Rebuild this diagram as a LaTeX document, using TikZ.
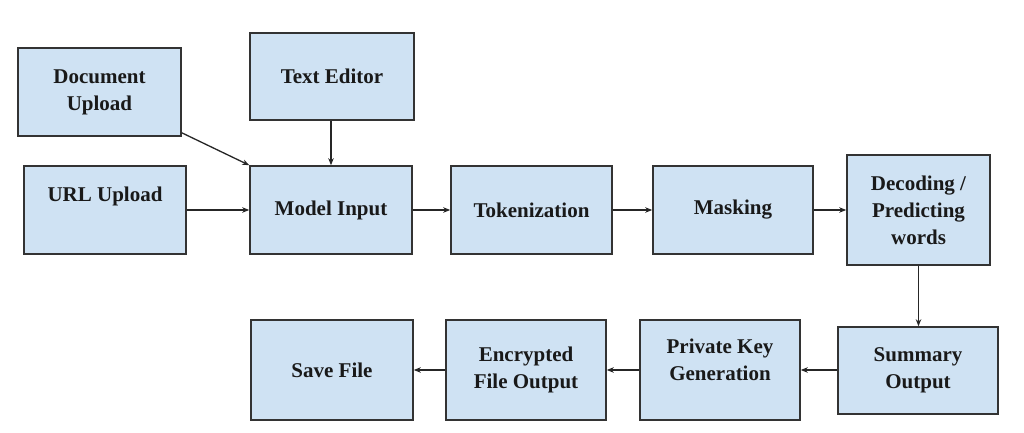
\documentclass[tikz,border=0pt]{standalone}
\usepackage{fontspec}
\setmainfont{Liberation Serif}
\usetikzlibrary{arrows.meta,calc}
\definecolor{boxfill}{HTML}{CFE2F3}
\definecolor{boxline}{HTML}{333333}
\begin{document}
\begin{tikzpicture}[x=1pt,y=-1pt,
  blk/.style={draw=boxline,fill=boxfill,line width=1.6pt,inner sep=0pt,align=center,
    font=\fontsize{21}{27}\selectfont\bfseries,text=black!90},
  conn/.style={draw=black!85,line width=1.3pt,-{Stealth[length=7pt,width=5.5pt]}}]
\useasboundingbox[fill=white] (0,0) rectangle (1024,433);
\node[blk,minimum width=163,minimum height=88] (doc) at (99.5,92) {Document\\Upload};
\node[blk,minimum width=164,minimum height=87] (te) at (332,76.5) {Text Editor};
\node[blk,minimum width=162,minimum height=88] (url) at (105,210) {};
\node[font=\fontsize{21}{27}\selectfont\bfseries,text=black!90] (urlt) at (url.center) [yshift=14pt] {URL Upload};
\node[blk,minimum width=162,minimum height=88] (mi) at (331,210) {Model Input};
\node[blk,minimum width=161,minimum height=88] (tok) at (531.5,210) {Tokenization};
\node[blk,minimum width=160,minimum height=88] (mask) at (733,210) {Masking};
\node[blk,minimum width=143,minimum height=110] (dec) at (918.5,210) {Decoding /\\Predicting\\words};
\node[blk,minimum width=160,minimum height=87] (sum) at (918,370.5) {Summary\\Output};
\node[blk,minimum width=160,minimum height=100] (pk) at (720,370) {};
\node[font=\fontsize{21}{27}\selectfont\bfseries,text=black!90,align=center] (pkt) at (pk.center) [yshift=10pt] {Private Key\\Generation};
\node[blk,minimum width=160,minimum height=100] (enc) at (526,370) {Encrypted\\File Output};
\node[blk,minimum width=162,minimum height=100] (save) at (332,370) {Save File};
\draw[conn] ($(doc.south east)+(0,-4)$) -- (mi.north west);
\draw[conn] (te.south -| mi.north) -- (mi.north);
\draw[conn] (url) -- (mi);
\draw[conn] (mi) -- (tok);
\draw[conn] (tok) -- (mask);
\draw[conn] (mask) -- (dec);
\draw[conn] (dec) -- (dec |- sum.north);
\draw[conn] (sum.west |- pk.east) -- (pk.east);
\draw[conn] (pk) -- (enc);
\draw[conn] (enc) -- (save);
\end{tikzpicture}
\end{document}
